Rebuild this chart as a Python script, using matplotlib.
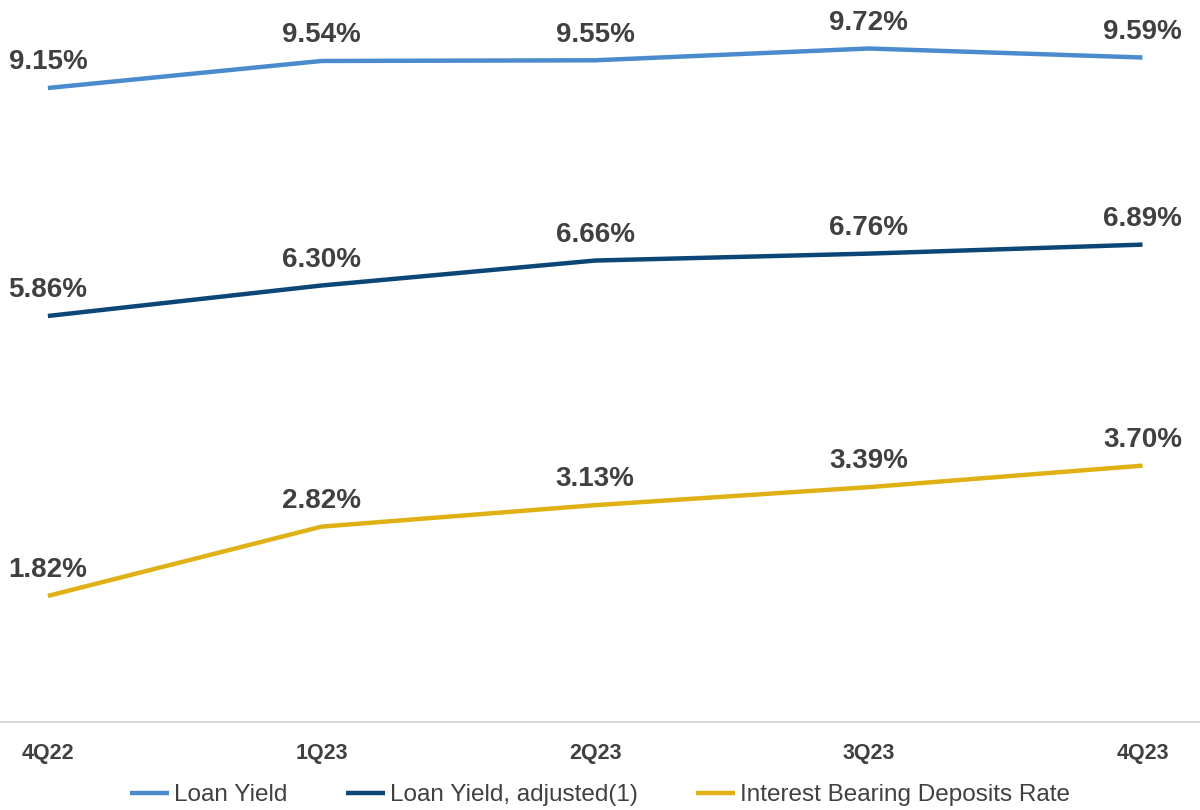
import matplotlib.pyplot as plt

quarters = ['4Q22', '1Q23', '2Q23', '3Q23', '4Q23']
loan_yield = [9.15, 9.54, 9.55, 9.72, 9.59]
loan_yield_adj = [5.86, 6.30, 6.66, 6.76, 6.89]
deposits_rate = [1.82, 2.82, 3.13, 3.39, 3.70]

series = [
    ('Loan Yield', loan_yield, '#4A8BCD'),
    ('Loan Yield, adjusted(1)', loan_yield_adj, '#0B4677'),
    ('Interest Bearing Deposits Rate', deposits_rate, '#DFB114'),
]

plt.rcParams['font.family'] = ['Liberation Sans', 'DejaVu Sans']
txt_color = '#404040'

fig = plt.figure(figsize=(12, 8.1), dpi=100)
ax = fig.add_axes([0, 0.1086, 1, 0.8914])

x = list(range(len(quarters)))
for name, vals, col in series:
    ax.plot(x, vals, color=col, lw=3.2, label=name, solid_capstyle='butt')
    for xi, v in zip(x, vals):
        ax.annotate(f'{v:.2f}%', (xi, v), xytext=(0, 13.5), textcoords='offset points',
                    ha='center', va='baseline', fontsize=20, fontweight='bold',
                    color=txt_color)

ax.set_xlim(-0.175, 4.21)
ax.set_ylim(0, 10.42)
ax.set_yticks([])
ax.set_xticks(x)
ax.set_xticklabels(quarters, fontsize=15.5, fontweight='bold', color=txt_color)
ax.tick_params(axis='x', length=0, pad=15)
for s in ['top', 'left', 'right']:
    ax.spines[s].set_visible(False)
ax.spines['bottom'].set_color('#d9d9d9')
ax.spines['bottom'].set_linewidth(1.5)

leg = fig.legend(loc='center', bbox_to_anchor=(0.5, 1 - 795 / 810), ncol=3, frameon=False,
                 fontsize=17.5, labelcolor=txt_color, handlelength=1.6, handletextpad=0.2,
                 columnspacing=2.4)
for t in leg.get_texts():
    t.set_fontweight('medium')

fig.savefig('out.png')
